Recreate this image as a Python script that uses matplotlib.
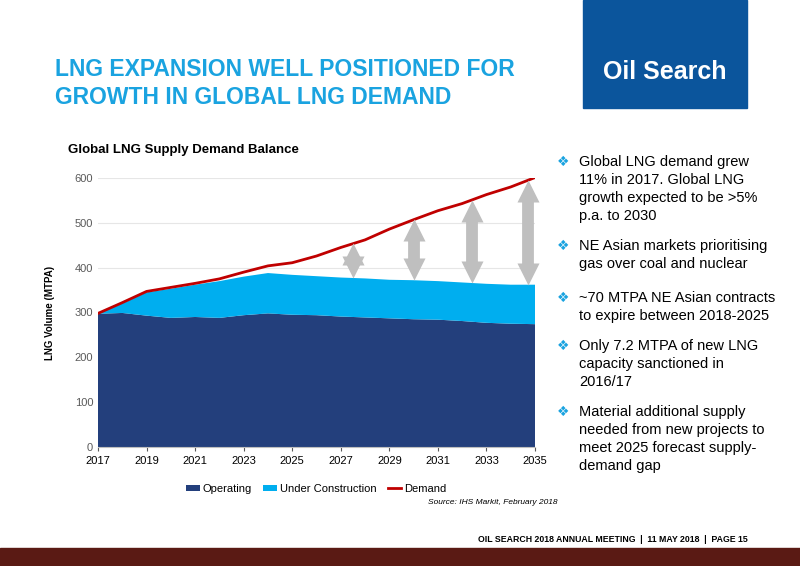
import matplotlib
matplotlib.use("Agg")
import matplotlib.pyplot as plt
import numpy as np
from matplotlib.patches import Rectangle

plt.rcParams["font.family"] = ["Liberation Sans", "DejaVu Sans"]

years = list(range(2017, 2036))
operating = [297,299,293,288,290,288,294,298,295,294,291,289,287,285,284,281,277,275,274]
total_supply = [297,320,345,353,362,370,380,388,384,381,378,376,373,372,370,367,364,362,362]
demand = [298,322,347,356,365,375,390,404,411,426,445,462,486,507,527,543,563,580,601]
under_construction = [t - o for t, o in zip(total_supply, operating)]
gap_years = [2027.5, 2030.0, 2032.4, 2034.7]
xticks = list(range(2017, 2036, 2))

W, H = 800, 566
fig = plt.figure(figsize=(8, 5.66), dpi=100)
fig.patch.set_facecolor("white")

def fx(px): return px / W
def fy(py): return 1 - py / H

# Slide title
fig.text(fx(55), fy(70), "LNG EXPANSION WELL POSITIONED FOR", color="#1aa3e0",
         fontsize=16.5, fontweight="bold", va="center")
fig.text(fx(55), fy(98), "GROWTH IN GLOBAL LNG DEMAND", color="#1aa3e0",
         fontsize=16.5, fontweight="bold", va="center")

# Logo box
fig.patches.append(Rectangle((fx(583), fy(108)), fx(747) - fx(583), 108 / H,
                             transform=fig.transFigure, color="#0b559c"))
fig.text(fx(665), fy(72), "Oil Search", color="white", fontsize=18, fontweight="bold",
         ha="center", va="center")

# Chart
ax = fig.add_axes([fx(98), fy(447), fx(535) - fx(98), (447 - 178) / H])
ax.stackplot(years, operating, under_construction, colors=["#233f7c", "#00aeef"],
             labels=["Operating", "Under Construction"])
ax.plot(years, demand, color="#c00000", lw=2, label="Demand")
for gy in gap_years:
    lo = np.interp(gy, years, total_supply) + 2
    hi = np.interp(gy, years, demand) - 2
    head = 44
    ax.plot([gy, gy], [lo + head * 0.8, hi - head * 0.8], color="#bfbfbf", lw=8.5,
            solid_capstyle="butt", clip_on=False)
    ax.plot([gy], [hi - head * 0.5], marker="^", ms=16, color="#bfbfbf", mec="none", clip_on=False)
    ax.plot([gy], [lo + head * 0.5], marker="v", ms=16, color="#bfbfbf", mec="none", clip_on=False)
ax.set_xlim(2017, 2035)
ax.set_ylim(0, 600)
ax.set_yticks(range(0, 601, 100))
ax.set_xticks(xticks)
ax.tick_params(labelsize=8, colors="#595959", length=0)
ax.tick_params(axis="x", length=3, colors="#595959")
for lbl in ax.get_xticklabels():
    lbl.set_color("black")
ax.grid(axis="y", color="#e6e6e6", lw=0.8)
ax.set_axisbelow(True)
for s in ["top", "right", "left"]:
    ax.spines[s].set_visible(False)
ax.spines["bottom"].set_color("#bfbfbf")
ax.set_ylabel("LNG Volume (MTPA)", fontsize=7, fontweight="bold", labelpad=14)
fig.text(fx(68), fy(150), "Global LNG Supply Demand Balance", fontsize=9.5, fontweight="bold", va="center")
leg = ax.legend(loc="upper center", bbox_to_anchor=(0.5, -0.1), ncol=3, frameon=False,
                fontsize=8, handlelength=1.2, handleheight=0.5, columnspacing=1.0, handletextpad=0.3)
fig.text(fx(428), fy(503), "Source: IHS Markit, February 2018", fontsize=6, style="italic", va="center")

# Bullets
bullets = [
    (162, ["Global LNG demand grew", "11% in 2017. Global LNG", "growth expected to be >5%", "p.a. to 2030"]),
    (246, ["NE Asian markets prioritising", "gas over coal and nuclear"]),
    (298, ["~70 MTPA NE Asian contracts", "to expire between 2018-2025"]),
    (346, ["Only 7.2 MTPA of new LNG", "capacity sanctioned in", "2016/17"]),
    (412, ["Material additional supply", "needed from new projects to", "meet 2025 forecast supply-", "demand gap"]),
]
for y0, lines in bullets:
    fig.text(fx(557), fy(y0), "\u2756", color="#1aa3e0", fontsize=10, va="center", family="DejaVu Sans")
    for i, t in enumerate(lines):
        fig.text(fx(579), fy(y0 + i * 18), t, fontsize=10.5, va="center")

# Footer
fig.text(fx(748), fy(540), "OIL SEARCH 2018 ANNUAL MEETING  |  11 MAY 2018  |  PAGE 15",
         fontsize=6.3, fontweight="bold", ha="right", va="center")
fig.patches.append(Rectangle((0, 0), 1, 18 / H, transform=fig.transFigure, color="#5a1a14"))

fig.savefig("out.png", dpi=100)
